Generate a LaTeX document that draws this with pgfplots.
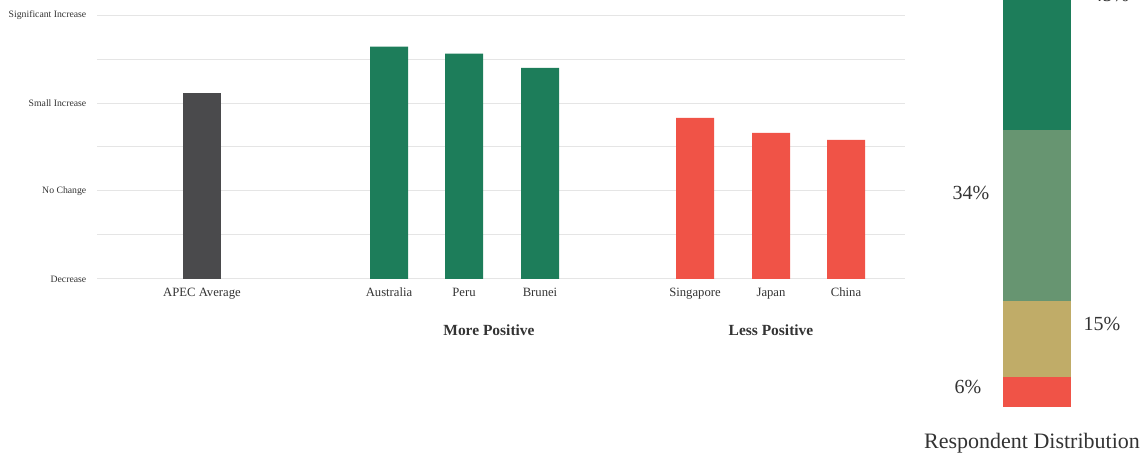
\documentclass[border=0pt]{standalone}
\usepackage{pgfplots}
\pgfplotsset{compat=1.18}
\usepackage{fontspec}
\setmainfont{Liberation Serif}
\definecolor{cgray}{HTML}{4A4A4C}
\definecolor{cgreen}{HTML}{1D7D5A}
\definecolor{cred}{HTML}{F05347}
\definecolor{clgreen}{HTML}{679571}
\definecolor{ctan}{HTML}{C0AC68}
\definecolor{ctext}{HTML}{333333}
\begin{document}
\begin{tikzpicture}[x=0.75pt,y=0.75pt]
\path[use as bounding box] (0,0) rectangle (1143,457);
\begin{axis}[at={(72.75pt,133.5pt)}, anchor=south west, scale only axis,
  width=606pt, height=198pt,
  xmin=97, xmax=905, ymin=1, ymax=4,
  axis line style={draw=none}, major tick length=0pt,
  ytick={1,1.5,2,2.5,3,3.5,4},
  yticklabels={Decrease,,No Change,,Small Increase,,Significant Increase},
  xtick={202,389,464,540,695,771,846},
  xticklabels={APEC Average,Australia,Peru,Brunei,Singapore,Japan,China},
  ymajorgrids, grid style={color=black!10, line width=0.75pt},
  yticklabel style={font=\fontsize{7.3}{8}\selectfont, text=ctext, xshift=-4.5pt},
  xticklabel style={font=\fontsize{9.5}{11}\selectfont, text=ctext, text height=1.6ex, text depth=0.4ex, yshift=-2.5pt},
  clip=true]
\addplot[ybar, bar shift=0pt, bar width=38, fill=cgray, draw=none] coordinates {(202,3.11)};
\addplot[ybar, bar shift=0pt, bar width=38, fill=cgreen, draw=none] coordinates {(389,3.64) (464,3.56) (540,3.40)};
\addplot[ybar, bar shift=0pt, bar width=38, fill=cred, draw=none] coordinates {(695,2.83) (771,2.66) (846,2.58)};
\end{axis}
\begin{axis}[at={(752.25pt,37.5pt)}, anchor=south west, scale only axis,
  width=51pt, height=378pt, xmin=0, xmax=1, ymin=0, ymax=100,
  hide axis, ybar stacked, bar width=1, clip=false]
\addplot[fill=cred, draw=none] coordinates {(0.5,6)};
\addplot[fill=ctan, draw=none] coordinates {(0.5,15)};
\addplot[fill=clgreen, draw=none] coordinates {(0.5,34)};
\addplot[fill=cgreen, draw=none] coordinates {(0.5,45)};
\end{axis}
\node[font=\bfseries\fontsize{11.6}{13}\selectfont, text=ctext, anchor=base] at (489,121) {More Positive};
\node[font=\bfseries\fontsize{11.6}{13}\selectfont, text=ctext, anchor=base] at (771,121) {Less Positive};
\node[font=\fontsize{15}{17}\selectfont, text=ctext, anchor=base] at (971,257) {34\%};
\node[font=\fontsize{15}{17}\selectfont, text=ctext, anchor=base] at (1102,126) {15\%};
\node[font=\fontsize{15}{17}\selectfont, text=ctext, anchor=base] at (968,63) {6\%};
\node[font=\fontsize{15}{17}\selectfont, text=ctext, anchor=base] at (1111,455) {45\%};
\node[font=\fontsize{16.5}{18}\selectfont, text=ctext, anchor=base] at (1032,8) {Respondent Distribution};
\end{tikzpicture}
\end{document}
